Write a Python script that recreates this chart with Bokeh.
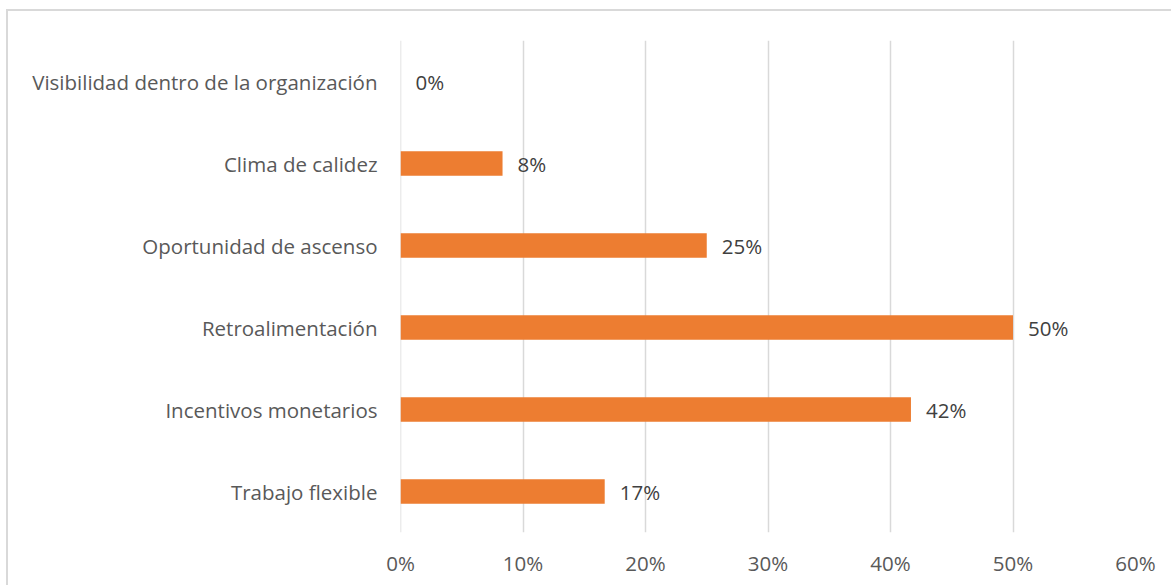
from bokeh.plotting import figure
from bokeh.models import ColumnDataSource, Range1d, FactorRange, FixedTicker, NumeralTickFormatter, Span
from bokeh.core.properties import value
from bokeh.embed import file_html
from bokeh.resources import INLINE

categories = ["Trabajo flexible", "Incentivos monetarios", "Retroalimentación",
              "Oportunidad de ascenso", "Clima de calidez",
              "Visibilidad dentro de la organización"]
values = [0.1667, 0.4167, 0.50, 0.25, 0.0833, 0.0]
labels = [f"{round(v * 100)}%" for v in values]
x_ticks = [0, 0.1, 0.2, 0.3, 0.4, 0.5, 0.6]

FONT = "Open Sans"
FS = "20.5px"

src = ColumnDataSource(dict(cat=categories, val=values, lab=labels))

p = figure(width=1165, height=576, output_backend="svg", toolbar_location=None,
           y_range=FactorRange(*categories, range_padding=0),
           x_range=Range1d(0, 0.6))
p.margin = (9, 0, 0, 6)
p.styles = {"border-left": "2px solid #d9d9d9", "border-top": "2px solid #d9d9d9"}
p.min_border_left = 392
p.min_border_right = 38
p.min_border_top = 29
p.min_border_bottom = 55
p.outline_line_color = None
p.background_fill_color = "white"
p.border_fill_color = "white"

p.add_layout(Span(location=0, dimension="height", line_color="#d9d9d9",
                  line_width=1.5, level="underlay"))

p.hbar(y="cat", right="val", left=0, height=0.3, source=src,
       fill_color="#ED7D31", line_color=None)
p.text(x="val", y="cat", text="lab", source=src, x_offset=15,
       text_baseline="middle", text_align="left", text_font=value(FONT),
       text_font_size=FS, text_color="#404040")

p.xaxis.ticker = FixedTicker(ticks=x_ticks)
p.xaxis.formatter = NumeralTickFormatter(format="0%")
for ax in (p.xaxis[0], p.yaxis[0]):
    ax.axis_line_color = None
    ax.major_tick_line_color = None
    ax.minor_tick_line_color = None
    ax.major_label_text_font = FONT
    ax.major_label_text_font_size = FS
    ax.major_label_text_color = "#595959"
p.xaxis.major_label_standoff = 10
p.yaxis.major_label_standoff = 17

p.xgrid.grid_line_color = "#d9d9d9"
p.xgrid.grid_line_width = 1.5
p.ygrid.grid_line_color = None

open("out.html", "w").write(file_html(p, INLINE))
